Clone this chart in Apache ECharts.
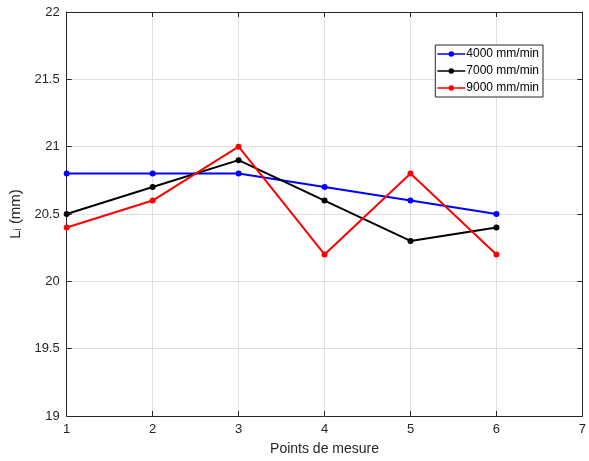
<!DOCTYPE html>
<html><head><meta charset="utf-8">
<script src="https://cdn.jsdelivr.net/npm/echarts@6/dist/echarts.min.js"></script>
<style>html,body{margin:0;padding:0;background:#fff;overflow:hidden}#c{width:589px;height:461px}</style>
</head><body><div id="c"></div>
<script>
const points = [1, 2, 3, 4, 5, 6];
const seriesNames = ['4000 mm/min', '7000 mm/min', '9000 mm/min'];
const s4000 = [20.8, 20.8, 20.8, 20.7, 20.6, 20.5];
const s7000 = [20.5, 20.7, 20.9, 20.6, 20.3, 20.4];
const s9000 = [20.4, 20.6, 21.0, 20.2, 20.8, 20.2];
const colors = ['#0000ff', '#000000', '#ff0000'];
const xLabel = 'Points de mesure';

const font = 'Liberation Sans, Arial, Helvetica, sans-serif';
const chart = echarts.init(document.getElementById('c'), null, {renderer: 'canvas', width: 589, height: 461});
const mk = (vals) => points.map((p, i) => [p, vals[i]]);
const allData = [s4000, s7000, s9000];
const legendIcon = 'path://M0,5.2 L11.4,5.2 L11.4,6.8 L0,6.8 Z M16.6,5.2 L28,5.2 L28,6.8 L16.6,6.8 Z M11.2,6 A2.8,2.8 0 1 1 16.8,6 A2.8,2.8 0 1 1 11.2,6 Z';
chart.setOption({
  animation: false,
  backgroundColor: '#fff',
  textStyle: {fontFamily: font},
  grid: {left: 63, right: 2, top: 12, bottom: 41, containLabel: false},
  legend: {
    right: 46, top: 45, orient: 'vertical', itemGap: 5,
    itemWidth: 28, itemHeight: 12,
    backgroundColor: '#fff', borderColor: '#262626', borderWidth: 1,
    padding: [3, 4, 3, 2],
    textStyle: {fontSize: 12, color: '#000', fontFamily: font, padding: [0, 0, 0, -4]},
    data: seriesNames.map((n) => ({name: n, icon: legendIcon}))
  },
  xAxis: [{
    type: 'value', min: 1, max: 7, interval: 1,
    name: xLabel, nameLocation: 'middle', nameGap: 26,
    nameTextStyle: {fontSize: 14, color: '#262626'},
    axisLine: {onZero: false, lineStyle: {color: '#262626', width: 1}},
    axisTick: {inside: true, length: 5, lineStyle: {color: '#262626'}},
    axisLabel: {fontSize: 13, color: '#262626', margin: 7},
    splitLine: {show: true, lineStyle: {color: '#dfdfdf', width: 1}}
  }, {
    type: 'value', min: 1, max: 7, interval: 1, position: 'top',
    axisLine: {onZero: false, lineStyle: {color: '#262626', width: 1}},
    axisTick: {inside: true, length: 5, lineStyle: {color: '#262626'}},
    axisLabel: {show: false}, splitLine: {show: false}
  }],
  yAxis: [{
    type: 'value', min: 19, max: 22, interval: 0.5,
    name: '{n|L}{s|i}{n| (mm)}', nameLocation: 'middle', nameGap: 39,
    nameTextStyle: {rich: {n: {fontSize: 15, color: '#262626', fontFamily: font}, s: {fontSize: 10, color: '#262626', verticalAlign: 'bottom', padding: [6, 0, 0, 0], fontFamily: font}}},
    axisLine: {onZero: false, lineStyle: {color: '#262626', width: 1}},
    axisTick: {inside: true, length: 5, lineStyle: {color: '#262626'}},
    axisLabel: {fontSize: 13, color: '#262626', margin: 7},
    splitLine: {show: true, lineStyle: {color: '#dfdfdf', width: 1}}
  }, {
    type: 'value', min: 19, max: 22, interval: 0.5, position: 'right',
    axisLine: {onZero: false, lineStyle: {color: '#262626', width: 1}},
    axisTick: {inside: true, length: 5, lineStyle: {color: '#262626'}},
    axisLabel: {show: false}, splitLine: {show: false}
  }],
  series: seriesNames.map((n, i) => ({
    name: n, type: 'line', data: mk(allData[i]),
    symbol: 'circle', symbolSize: 6,
    lineStyle: {color: colors[i], width: 2},
    itemStyle: {color: colors[i]},
    z: 3 + i
  }))
});
</script></body></html>
